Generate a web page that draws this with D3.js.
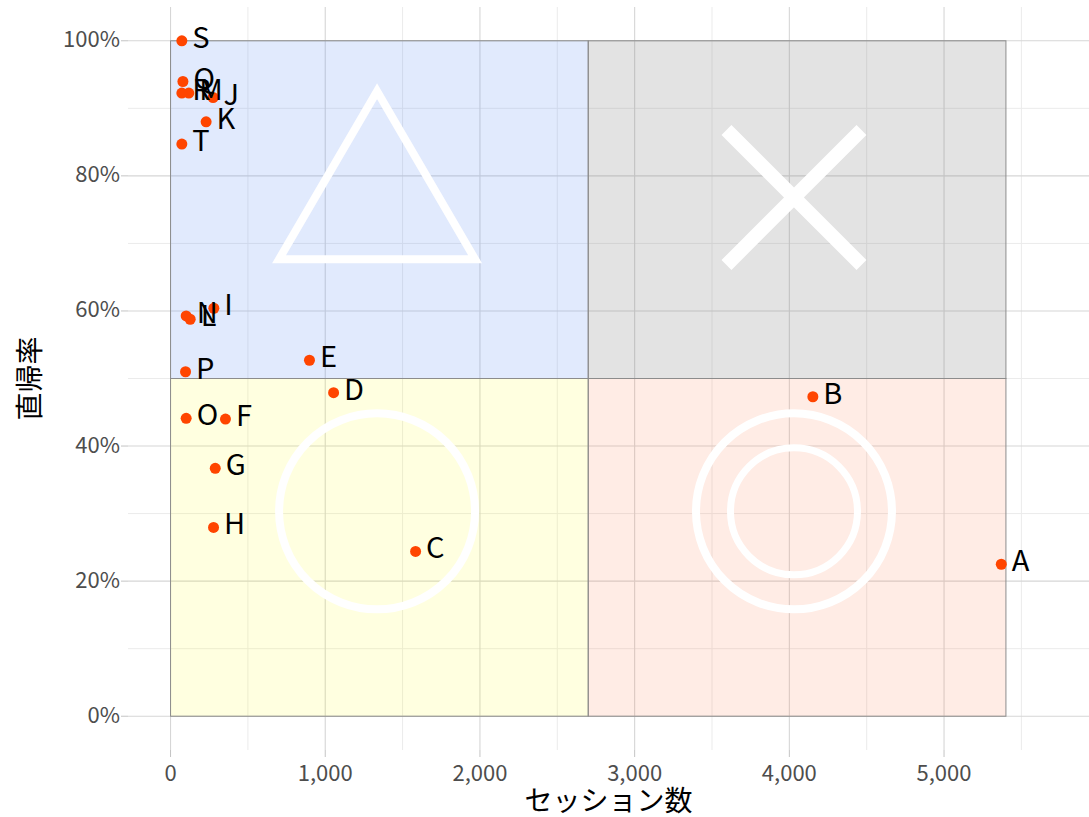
<!DOCTYPE html>
<html>
<head>
<meta charset="utf-8">
<script src="https://cdn.jsdelivr.net/npm/d3@7"></script>
<style>
  body { margin: 0; background: #fff; }
  text { font-family: "Noto Sans CJK JP", "Noto Sans", sans-serif; }
</style>
</head>
<body>
<div id="canvas"></div>
<script>
// sites: session count vs bounce rate
const names = ["A", "B", "C", "D", "E", "F", "G", "H", "I", "J", "K", "L", "M", "N", "O", "P", "Q", "R", "S", "T"];
const sessions = [5370, 4152, 1584, 1054, 898, 355, 289, 278, 280, 275, 230, 127, 118, 101, 101, 97, 80, 73, 73, 73];
const bounce = [0.225, 0.473, 0.244, 0.479, 0.527, 0.440, 0.367, 0.2795, 0.604, 0.916, 0.880, 0.5877, 0.9225, 0.5926, 0.441, 0.510, 0.9397, 0.9225, 1.0, 0.847];

const xTicks = [0, 1000, 2000, 3000, 4000, 5000];
const xMinor = [500, 1500, 2500, 3500, 4500, 5500];
const yTicks = [0, 0.2, 0.4, 0.6, 0.8, 1.0];
const yMinor = [0.1, 0.3, 0.5, 0.7, 0.9];

// quadrants: [x0, x1, y0, y1]
const quadX0 = [0, 2700, 0, 2700];
const quadX1 = [2700, 5400, 2700, 5400];
const quadY0 = [0.5, 0.5, 0, 0];
const quadY1 = [1, 1, 0.5, 0.5];
const quadFill = ["#5f8ff5", "#7f7f7f", "#ffff00", "#ff7f50"];
const quadAlpha = [0.19, 0.22, 0.12, 0.15];

// big white marks in each quadrant
const markKind = ["triangle", "cross", "circle", "double"];
const markX = [1335, 4030, 1335, 4030];
const markY = [0.801, 0.768, 0.3033, 0.3033];

const width = 1089, height = 817;
const margin = { top: 7, left: 128, bottom: 67, right: 0 };

const svg = d3.select("#canvas").append("svg")
    .attr("width", width)
    .attr("height", height);

const x = d3.scaleLinear()
    .domain([-275, 5937])
    .range([margin.left, width - margin.right]);

const y = d3.scaleLinear()
    .domain([-0.05, 1.05])
    .range([height - margin.bottom, margin.top]);

const g = svg.append("g");

// minor grid
g.selectAll(".xminor").data(xMinor).enter().append("line")
    .attr("x1", d => x(d)).attr("x2", d => x(d))
    .attr("y1", y.range()[0]).attr("y2", y.range()[1])
    .style("stroke", "#ebebeb").style("stroke-width", 1);
g.selectAll(".yminor").data(yMinor).enter().append("line")
    .attr("y1", d => y(d)).attr("y2", d => y(d))
    .attr("x1", x.range()[0]).attr("x2", x.range()[1])
    .style("stroke", "#ebebeb").style("stroke-width", 1);

// major grid
g.selectAll(".xmajor").data(xTicks).enter().append("line")
    .attr("x1", d => x(d)).attr("x2", d => x(d))
    .attr("y1", y.range()[0]).attr("y2", y.range()[1])
    .style("stroke", "#d6d6d6").style("stroke-width", 1.1);
g.selectAll(".ymajor").data(yTicks).enter().append("line")
    .attr("y1", d => y(d)).attr("y2", d => y(d))
    .attr("x1", x.range()[0]).attr("x2", x.range()[1])
    .style("stroke", "#d6d6d6").style("stroke-width", 1.1);

// quadrant rectangles
g.selectAll(".quad").data(d3.range(4)).enter().append("rect")
    .attr("x", i => x(quadX0[i]))
    .attr("y", i => y(quadY1[i]))
    .attr("width", i => x(quadX1[i]) - x(quadX0[i]))
    .attr("height", i => y(quadY0[i]) - y(quadY1[i]))
    .style("fill", i => quadFill[i])
    .style("fill-opacity", i => quadAlpha[i])
    .style("stroke", "#8c8c8c")
    .style("stroke-width", 1);

// white marks
markKind.forEach((k, i) => {
    const cx = x(markX[i]), cy = y(markY[i]);
    const m = g.append("g").style("fill", "none").style("stroke", "#fff");
    if (k === "triangle") {
        m.append("path")
            .attr("d", `M${cx},${cy - 84}L${cx + 98},${cy + 84}L${cx - 98},${cy + 84}Z`)
            .style("stroke-width", 8).style("stroke-linejoin", "miter");
    } else if (k === "cross") {
        m.append("path")
            .attr("d", `M${cx - 67.5},${cy - 67.5}L${cx + 67.5},${cy + 67.5}M${cx + 67.5},${cy - 67.5}L${cx - 67.5},${cy + 67.5}`)
            .style("stroke-width", 14);
    } else {
        m.append("circle").attr("cx", cx).attr("cy", cy).attr("r", 98).style("stroke-width", 8);
        if (k === "double") {
            m.append("circle").attr("cx", cx).attr("cy", cy).attr("r", 63.5).style("stroke-width", 7);
        }
    }
});

// ticks
g.selectAll(".xtick").data(xTicks).enter().append("line")
    .attr("x1", d => x(d)).attr("x2", d => x(d))
    .attr("y1", y.range()[0]).attr("y2", y.range()[0] + 7)
    .style("stroke", "#c4c4c4");
g.selectAll(".ytick").data(yTicks).enter().append("line")
    .attr("y1", d => y(d)).attr("y2", d => y(d))
    .attr("x1", x.range()[0] - 7).attr("x2", x.range()[0])
    .style("stroke", "#c4c4c4");

// tick labels
g.selectAll(".xlab").data(xTicks).enter().append("text")
    .attr("x", d => x(d)).attr("y", 781)
    .attr("text-anchor", "middle")
    .style("font-size", "22px").style("fill", "#4d4d4d")
    .text(d3.format(","));
g.selectAll(".ylab").data(yTicks).enter().append("text")
    .attr("x", 120).attr("y", d => y(d) + 6.5)
    .attr("text-anchor", "end")
    .style("font-size", "22px").style("fill", "#4d4d4d")
    .text(d3.format(".0%"));

// points
g.selectAll(".pt").data(names).enter().append("circle")
    .attr("cx", (d, i) => x(sessions[i]))
    .attr("cy", (d, i) => y(bounce[i]))
    .attr("r", 5.5)
    .style("fill", "#ff4500");

g.selectAll(".ptlab").data(names).enter().append("text")
    .attr("x", (d, i) => x(sessions[i]) + 10.5)
    .attr("y", (d, i) => y(bounce[i]) + 7)
    .style("font-size", "29px").style("fill", "#000")
    .text(d => d);

// axis titles
svg.append("text")
    .attr("x", (x.range()[0] + x.range()[1]) / 2).attr("y", 811)
    .attr("text-anchor", "middle")
    .style("font-size", "28px").style("fill", "#000")
    .text("セッション数");
svg.append("text")
    .attr("transform", `translate(40,${(y.range()[0] + y.range()[1]) / 2}) rotate(-90)`)
    .attr("text-anchor", "middle")
    .style("font-size", "28px").style("fill", "#000")
    .text("直帰率");
</script>
</body>
</html>
